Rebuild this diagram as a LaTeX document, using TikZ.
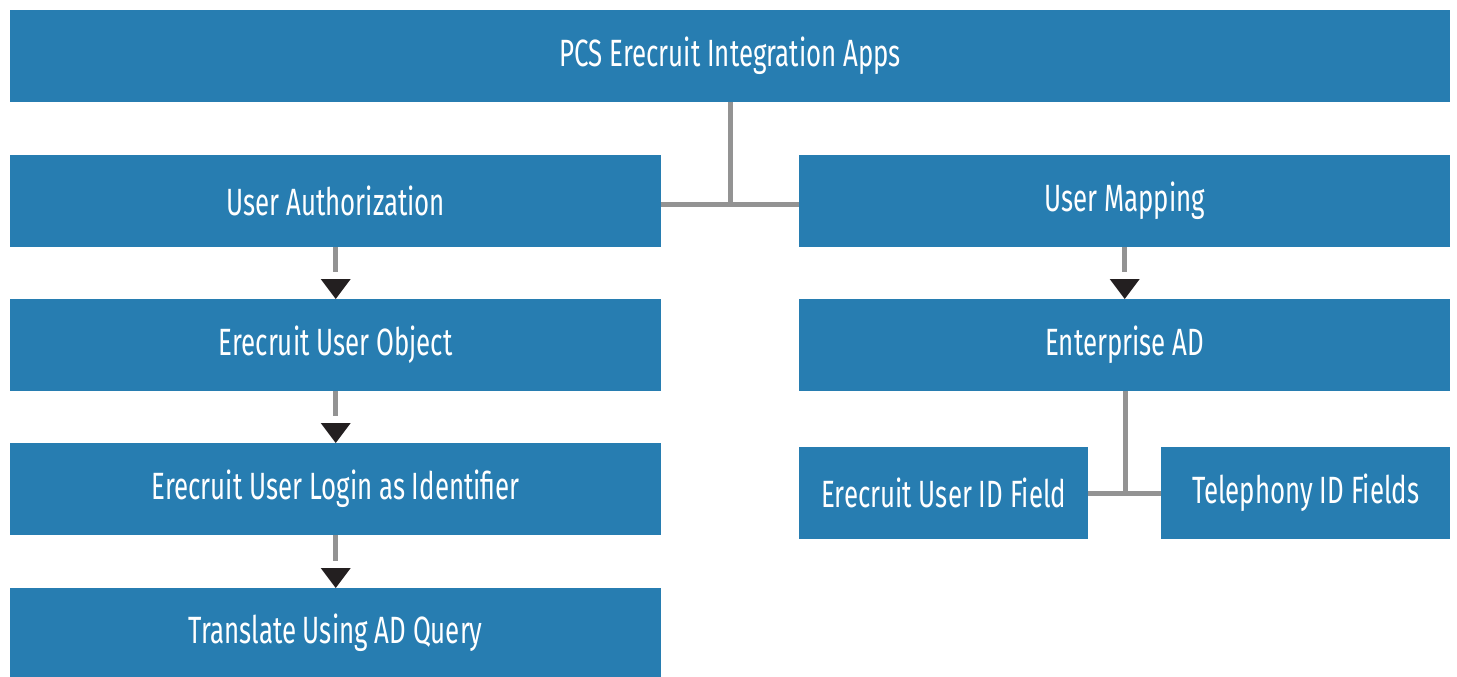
\documentclass[tikz,border=0pt]{standalone}
\usepackage{fontspec}
\setmainfont{Fira Sans}[FakeStretch=0.68]
\usetikzlibrary{arrows.meta}
\definecolor{boxblue}{HTML}{277DB1}
\definecolor{linkgray}{HTML}{939393}
\definecolor{tipblack}{HTML}{231F20}
\tikzset{
  box/.style={fill=boxblue, draw=none, text=white, font=\fontsize{38}{40}\selectfont,
              inner sep=0pt, anchor=north west},
  link/.style={draw=linkgray, line width=5pt},
  flow/.style={draw=linkgray, line width=5pt, shorten >=27pt},
  tip/.style={fill=tipblack, draw=none},
}
\newcommand{\blk}[6]{% name, x1, y1, x2, y2, text
  \node[box, minimum width=#4pt-#2pt, minimum height=#5pt-#3pt] (#1) at (#2,#3) {#6};}
\begin{document}
\begin{tikzpicture}[x=1pt,y=-1pt]
  \useasboundingbox (0,0) rectangle (1457,677);
  % boxes
  \blk{top}{10}{10}{1450}{102}{PCS Erecruit Integration Apps}
  \blk{auth}{10}{155}{661}{247}{User Authorization}
  \blk{obj}{10}{299}{661}{391}{Erecruit User Object}
  \blk{login}{10}{443}{661}{535}{Erecruit User Login as Identifier}
  \blk{query}{10}{588}{661}{677}{Translate Using AD Query}
  \blk{map}{799}{155}{1450}{247}{User Mapping}
  \blk{ad}{799}{299}{1450}{391}{Enterprise AD}
  \blk{uid}{799}{447}{1088}{539}{Erecruit User ID Field}
  \blk{tel}{1161}{447}{1450}{539}{Telephony ID Fields}
  % tree connectors
  \coordinate (j1) at (730,204);
  \draw[link] (top.south -| j1) -- (j1);
  \draw[link] (auth.east |- j1) -- (map.west |- j1);
  \coordinate (j2) at (1125,493);
  \draw[link] (ad.south -| j2) -- (j2);
  \draw[link] (uid.east |- j2) -- (tel.west |- j2);
  % flow arrows: gray stem, black triangular head
  \foreach \a/\b in {auth/obj, obj/login, login/query, map/ad}{
    \draw[flow] (\a.south) -- (\b.north);
    \fill[tip] ([xshift=-15pt,yshift=20pt]\b.north) -- ([xshift=15pt,yshift=20pt]\b.north) -- (\b.north) -- cycle;
  }
\end{tikzpicture}
\end{document}
